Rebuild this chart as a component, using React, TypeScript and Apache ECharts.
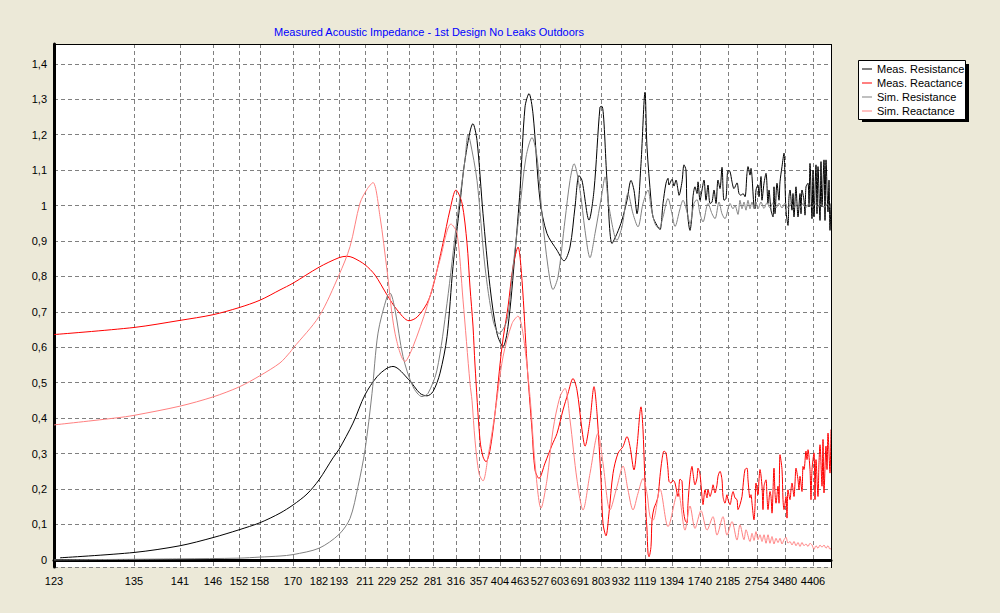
import React, { useEffect, useRef } from 'react';
import * as echarts from 'echarts';

// Frequency labels (Hz) shown under the vertical grid lines, and the sample index where each sits
const tickLabels = ['123', '135', '141', '146', '152', '158', '170', '182', '193', '211', '229', '252', '281', '316', '357', '404', '463', '527', '603', '691', '803', '932', '1119', '1394', '1740', '2185', '2754', '3480', '4406'];
const tickIndex = [0, 80, 126, 159, 185, 206, 239, 265, 285, 311, 333, 355, 379, 402, 425, 446, 466, 486, 506, 526, 547, 567, 591, 618, 646, 674, 703, 731, 759];
const sampleCount = 778;

const seriesNames = ['Meas. Resistance', 'Meas. Reactance', 'Sim. Resistance', 'Sim. Reactance'];
const seriesColors = ['#000000', '#ff0000', '#808080', '#ff8080'];

// [sample index, value]
const measResistance = [[6,0.006],[80,0.021],[126,0.04],[159,0.063],[185,0.085],[206,0.105],[226,0.132],[239,0.155],[253,0.186],[265,0.226],[279,0.288],[285,0.312],[299,0.386],[311,0.466],[323,0.517],[333,0.541],[339,0.546],[355,0.508],[366,0.47],[373,0.463],[379,0.475],[386,0.527],[393,0.63],[399,0.828],[406,1.007],[411,1.129],[419,1.231],[423,1.184],[429,0.977],[436,0.771],[443,0.639],[449,0.602],[454,0.658],[461,0.865],[466,1.043],[471,1.278],[475,1.316],[479,1.259],[486,1.015],[493,0.921],[503,0.874],[510,0.844],[516,0.883],[521,0.996],[525,1.085],[528,1.071],[535,0.959],[540,1.043],[546,1.278],[548,1.28],[553,1.071],[558,0.893],[563,0.921],[568,0.959],[573,1.015],[577,1.071],[580,1.043],[583,0.977],[587,1.118],[591,1.32],[593,1.165],[597,1.015],[599,0.968],[603,0.944],[606,0.932],[609,1.006],[612,1.063],[614,1.077],[615,1.058],[618,1.074],[620,1.055],[622,1.072],[624,1.044],[625,1.029],[628,1.067],[630,1.115],[632,1.1],[633,0.996],[636,0.93],[638,0.973],[639,1.025],[641,1.053],[643,1.034],[644,1.067],[646,1.015],[648,1.044],[650,1.072],[652,1.015],[654,1.058],[656,1.006],[658,1.01],[660,1.044],[662,1.006],[664,1.072],[666,1.048],[668,1.108],[670,1.015],[672,1.02],[674,1.099],[676,1.096],[678,1.067],[680,1.048],[683,1.064],[685,1.034],[687,1.029],[689,1.034],[691,1.025],[693,1.091],[694,1.11],[696,1.086],[697,1.105],[698,1.082],[700,0.996],[701,0.991],[702,1.044],[704,1.058],[705,1.025],[707,1.082],[708,1.015],[710,1.063],[712,1.091],[714,1.006],[715,1.044],[717,0.987],[719,0.968],[720,1.053],[721,0.977],[723,1.063],[725,1.015],[726,1.067],[728,1.11],[730,1.148],[731,1.063],[732,0.987],[734,0.944],[735,1.025],[736,1.044],[738,0.987],[739,1.034],[740,0.968],[742,1.053],[743,1.006],[744,0.968],[746,1.034],[747,0.977],[748,1.044],[750,1.015],[751,0.973],[752,1.053],[754,1.063],[755,0.996],[756,1.119],[758,0.963],[759,1.1],[760,0.968],[762,1.115],[763,0.977],[764,1.11],[766,0.958],[767,1.124],[768,0.996],[770,1.129],[771,0.958],[772,1.129],[774,0.982],[775,1.072],[776,0.93],[777,1.006]];

const measReactance = [[0,0.636],[80,0.656],[126,0.676],[159,0.692],[185,0.712],[206,0.733],[226,0.762],[239,0.781],[265,0.826],[285,0.853],[293,0.857],[299,0.853],[311,0.833],[321,0.804],[333,0.748],[343,0.706],[355,0.675],[363,0.685],[373,0.724],[379,0.771],[389,0.894],[396,0.988],[402,1.044],[408,1.007],[413,0.894],[416,0.77],[419,0.66],[421,0.55],[426,0.338],[429,0.291],[432,0.277],[436,0.31],[441,0.414],[448,0.602],[454,0.714],[459,0.827],[464,0.883],[468,0.789],[473,0.555],[478,0.367],[481,0.254],[485,0.23],[491,0.273],[498,0.324],[503,0.357],[509,0.423],[514,0.47],[519,0.512],[523,0.479],[528,0.367],[531,0.321],[536,0.395],[540,0.489],[543,0.414],[547,0.226],[549,0.103],[552,0.068],[555,0.132],[559,0.244],[564,0.301],[569,0.32],[573,0.348],[576,0.32],[580,0.254],[583,0.32],[587,0.432],[589,0.367],[592,0.132],[593,0.085],[594,0.019],[595,0.009],[597,0.038],[598,0.113],[600,0.146],[602,0.16],[604,0.179],[606,0.236],[608,0.283],[610,0.307],[612,0.302],[614,0.255],[615,0.222],[617,0.217],[619,0.225],[621,0.217],[623,0.189],[624,0.179],[626,0.228],[628,0.222],[629,0.151],[631,0.113],[633,0.104],[634,0.16],[636,0.231],[638,0.264],[639,0.245],[641,0.212],[643,0.231],[644,0.259],[646,0.241],[648,0.179],[649,0.156],[651,0.198],[653,0.175],[654,0.198],[656,0.179],[658,0.198],[659,0.212],[661,0.189],[663,0.212],[664,0.236],[666,0.25],[668,0.226],[669,0.179],[671,0.16],[673,0.184],[674,0.17],[676,0.156],[678,0.184],[679,0.193],[681,0.175],[683,0.17],[684,0.142],[686,0.156],[688,0.179],[689,0.208],[691,0.255],[693,0.259],[694,0.226],[696,0.175],[697,0.184],[698,0.16],[700,0.113],[701,0.151],[702,0.217],[704,0.184],[705,0.226],[706,0.255],[708,0.208],[709,0.142],[710,0.208],[712,0.226],[713,0.179],[714,0.142],[716,0.193],[717,0.179],[718,0.132],[720,0.259],[721,0.189],[722,0.16],[724,0.208],[725,0.16],[726,0.297],[728,0.255],[729,0.17],[730,0.142],[732,0.179],[733,0.118],[734,0.198],[736,0.17],[737,0.198],[738,0.217],[740,0.179],[741,0.217],[742,0.259],[744,0.226],[745,0.198],[746,0.236],[748,0.193],[749,0.264],[750,0.255],[752,0.307],[753,0.283],[754,0.311],[756,0.255],[757,0.17],[758,0.255],[760,0.302],[761,0.17],[762,0.283],[764,0.179],[765,0.274],[766,0.325],[768,0.208],[769,0.34],[770,0.189],[772,0.321],[773,0.255],[774,0.358],[776,0.245],[777,0.368]];

const simResistance = [[0,0.0],[126,0.003],[185,0.005],[206,0.008],[226,0.011],[239,0.015],[265,0.033],[285,0.072],[296,0.117],[304,0.207],[311,0.31],[318,0.47],[324,0.64],[333,0.743],[336,0.753],[341,0.706],[349,0.574],[359,0.489],[368,0.461],[374,0.47],[383,0.536],[393,0.724],[403,0.96],[411,1.129],[414,1.2],[416,1.184],[423,1.071],[431,0.827],[439,0.677],[445,0.639],[453,0.677],[459,0.827],[466,0.996],[472,1.137],[478,1.192],[483,1.137],[488,0.977],[494,0.827],[499,0.763],[504,0.799],[511,0.959],[516,1.071],[520,1.118],[526,1.043],[531,0.93],[536,0.853],[541,0.921],[548,1.034],[551,1.081],[555,0.996],[563,0.902],[568,0.94],[574,1.034],[579,0.977],[584,0.94],[589,1.006],[594,1.044],[597,0.996],[601,0.949],[605,0.935],[609,0.968],[614,1.02],[618,0.977],[621,0.941],[626,0.991],[629,1.015],[633,0.982],[636,0.949],[640,1.006],[643,1.017],[646,0.977],[649,0.954],[654,1.006],[658,0.977],[661,0.963],[665,1.01],[668,0.977],[671,0.963],[676,1.006],[679,0.991],[681,1.0],[684,0.975],[686,1.015],[688,0.991],[690,1.01],[692,0.987],[694,1.015],[696,0.991],[698,1.01],[700,0.991],[702,1.01],[704,0.991],[707,1.01],[710,0.992],[713,1.008],[716,0.993],[719,1.008],[722,0.993],[725,1.007],[728,0.993],[731,1.007],[734,0.993],[737,1.007],[740,0.994],[743,1.006],[746,0.994],[749,1.006],[752,0.994],[755,1.006],[758,0.995],[761,1.006],[764,0.995],[767,1.005],[770,0.995],[773,1.005],[776,0.995],[777,1.0]];

const simReactance = [[0,0.381],[63,0.401],[80,0.408],[126,0.434],[159,0.46],[185,0.488],[206,0.52],[226,0.556],[236,0.586],[239,0.597],[265,0.687],[285,0.804],[296,0.884],[306,1.007],[313,1.046],[319,1.065],[326,0.969],[333,0.818],[341,0.64],[351,0.56],[359,0.602],[373,0.715],[386,0.847],[397,0.948],[403,0.922],[409,0.734],[416,0.498],[418,0.45],[421,0.338],[425,0.244],[429,0.223],[434,0.291],[441,0.414],[449,0.573],[458,0.667],[464,0.688],[469,0.639],[476,0.461],[481,0.273],[487,0.146],[493,0.226],[499,0.367],[506,0.461],[511,0.484],[516,0.395],[523,0.226],[529,0.141],[536,0.244],[544,0.357],[549,0.273],[556,0.141],[563,0.207],[569,0.265],[574,0.197],[579,0.141],[584,0.188],[589,0.23],[593,0.188],[596,0.122],[599,0.112],[606,0.2],[614,0.094],[624,0.193],[631,0.084],[636,0.152],[641,0.089],[647,0.139],[653,0.084],[659,0.122],[663,0.07],[669,0.122],[673,0.07],[678,0.108],[683,0.056],[686,0.099],[690,0.057],[692,0.085],[696,0.052],[698,0.075],[700,0.055],[702,0.08],[704,0.057],[706,0.071],[708,0.052],[710,0.071],[712,0.047],[714,0.071],[716,0.047],[718,0.066],[720,0.045],[722,0.061],[724,0.049],[726,0.061],[728,0.045],[730,0.057],[732,0.064],[734,0.047],[736,0.052],[738,0.042],[740,0.052],[742,0.04],[744,0.049],[746,0.038],[748,0.049],[750,0.04],[752,0.045],[754,0.038],[756,0.047],[758,0.042],[760,0.03],[762,0.04],[764,0.033],[766,0.042],[768,0.036],[770,0.042],[772,0.033],[774,0.04],[776,0.03],[777,0.033]];

const seriesData = [measResistance, measReactance, simResistance, simReactance];

const titleText = 'Measured Acoustic Impedance - 1st Design No Leaks Outdoors';
const FONT = '"Liberation Sans", Arial, sans-serif';

export default function App() {
  const ref = useRef<HTMLDivElement>(null);

  useEffect(() => {
    document.body.style.margin = '0';
    const chart = echarts.init(ref.current!, null, { renderer: 'svg' });
    const labelAt = new Map<number, string>(tickIndex.map((t, i) => [t, tickLabels[i]]));
    const categories = Array.from({ length: sampleCount }, (_, i) => labelAt.get(i) ?? '');
    const isTick = (i: number) => labelAt.has(i);

    const gridLine = { color: '#808080', width: 1, type: [4, 3] };

    chart.setOption({
      animation: false,
      backgroundColor: '#ece9d8',
      grid: { left: 54, right: 169, top: 44, bottom: 46, show: true, backgroundColor: '#ffffff', borderWidth: 0 },
      legend: {
        orient: 'vertical',
        left: 862,
        top: 62,
        padding: 0,
        itemGap: 0,
        itemWidth: 10,
        itemHeight: 1,
        icon: 'rect',
        selectedMode: false,
        data: seriesNames,
        textStyle: { fontFamily: FONT, fontSize: 11, color: '#000', lineHeight: 14 },
      },
      xAxis: {
        type: 'category',
        data: categories,
        boundaryGap: false,
        axisLine: { lineStyle: { color: '#000', width: 3 } },
        axisTick: { show: false },
        axisLabel: { interval: (i: number) => isTick(i), color: '#000', fontSize: 11, fontFamily: FONT, margin: 8 },
        splitLine: { show: true, interval: (i: number) => isTick(i), lineStyle: gridLine },
      },
      yAxis: {
        type: 'value',
        min: -0.02,
        max: 1.456,
        splitNumber: 15,
        axisLine: { show: true, lineStyle: { color: '#000', width: 3 } },
        axisTick: { show: false },
        axisLabel: {
          color: '#000',
          fontSize: 11,
          fontFamily: FONT,
          margin: 7,
          formatter: (v: number) => {
            const r = Math.round(v * 10) / 10;
            if (Math.abs(v - r) > 1e-6) return '';
            if (Math.abs(r) < 1e-9) return '0';
            return (Number.isInteger(r) ? String(r) : r.toFixed(1)).replace('.', ',');
          },
        },
        splitLine: { show: true, lineStyle: gridLine },
      },
      series: seriesNames.map((name, i) => ({
        name,
        type: 'line',
        data: seriesData[i],
        symbol: 'none',
        showSymbol: false,
        smooth: 0.3,
        color: seriesColors[i],
        itemStyle: { color: seriesColors[i] },
        lineStyle: { color: seriesColors[i], width: 1 },
      })),
      graphic: [
        { type: 'text', x: 429, y: 32, z: 10, style: { text: titleText, fill: '#0000ff', font: '11px ' + FONT, align: 'center', verticalAlign: 'middle', textAlign: 'center', textVerticalAlign: 'middle' } },
        { type: 'line', z: 50, shape: { x1: 54, y1: 44.5, x2: 832, y2: 44.5 }, style: { stroke: '#000', lineWidth: 1 } },
        { type: 'line', z: 50, shape: { x1: 831.5, y1: 44, x2: 831.5, y2: 568 }, style: { stroke: '#000', lineWidth: 1 } },
        { type: 'rect', z: 0, shape: { x: 862, y: 64, width: 107, height: 58 }, style: { fill: '#000' } },
        { type: 'rect', z: 1, shape: { x: 858.5, y: 60.5, width: 107, height: 59 }, style: { fill: '#fff', stroke: '#000', lineWidth: 1 } },
      ],
    });
    return () => chart.dispose();
  }, []);

  return <div ref={ref} style={{ position: 'absolute', left: 0, top: 0, width: 1000, height: 613 }} />;
}
